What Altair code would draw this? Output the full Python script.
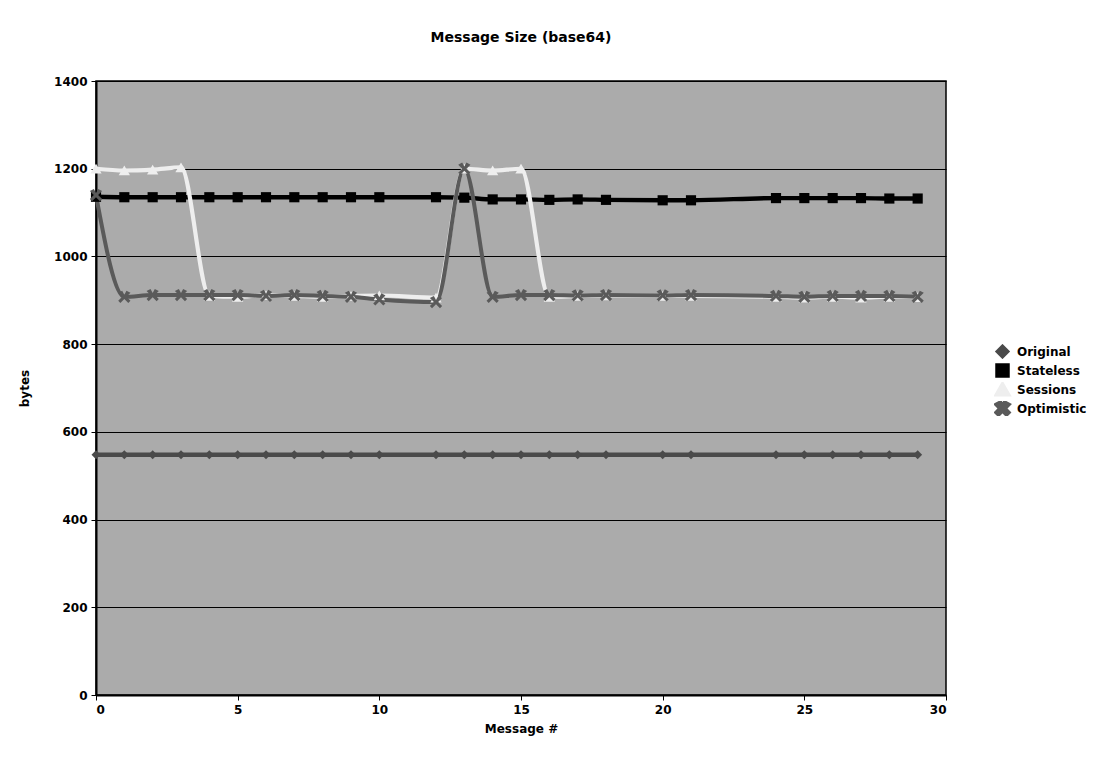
import altair as alt
import pandas as pd

messages = [0, 1, 2, 3, 4, 5, 6, 7, 8, 9, 10, 12, 13, 14, 15, 16, 17, 18, 20, 21, 24, 25, 26, 27, 28, 29]
original = [548, 548, 548, 548, 548, 548, 548, 548, 548, 548, 548, 548, 548, 548, 548, 548, 548, 548, 548, 548, 548, 548, 548, 548, 548, 548]
stateless = [1136, 1135, 1135, 1135, 1135, 1135, 1135, 1135, 1135, 1135, 1135, 1135, 1134, 1130, 1130, 1129, 1130, 1129, 1128, 1128, 1133, 1133, 1133, 1133, 1132, 1132]
sessions = [1200, 1196, 1198, 1203, 910, 908, 912, 910, 908, 910, 911, 906, 1200, 1196, 1200, 908, 910, 911, 910, 910, 908, 906, 908, 906, 908, 907]
optimistic = [1140, 908, 912, 912, 912, 912, 910, 912, 910, 908, 902, 896, 1200, 908, 912, 912, 911, 912, 911, 912, 910, 908, 910, 910, 910, 908]

series_names = ["Original", "Stateless", "Sessions", "Optimistic"]
series_colors = ["#4a4a4a", "#000000", "#eeeeee", "#5a5a5a"]
x_shape = "M-0.35,-1L0,-0.35L0.35,-1L1,-0.65L0.35,0L1,0.65L0.65,1L0,0.35L-0.65,1L-1,0.65L-0.35,0L-1,-0.65Z"
series_shapes = ["diamond", "square", "triangle-up", x_shape]

rows = []
for name, vals in zip(series_names, [original, stateless, sessions, optimistic]):
    for m, v in zip(messages, vals):
        rows.append({"Message": m, "bytes": v, "series": name})
df = pd.DataFrame(rows)

legend = alt.Legend(title=None, orient="none", legendX=898, legendY=263,
                    labelFont="DejaVu Sans", labelFontSize=12, labelFontWeight="bold",
                    labelColor="#000", symbolSize=90, symbolStrokeWidth=0,
                    rowPadding=4, symbolOpacity=1, labelOffset=6, clipHeight=15)
color = alt.Color("series:N", scale=alt.Scale(domain=series_names, range=series_colors), legend=legend)
shape = alt.Shape("series:N", scale=alt.Scale(domain=series_names, range=series_shapes), legend=legend)

x = alt.X("Message:Q", title="Message #", scale=alt.Scale(domain=[0, 30], nice=False),
          axis=alt.Axis(values=[0, 5, 10, 15, 20, 25, 30], grid=False))
y = alt.Y("bytes:Q", title="bytes", scale=alt.Scale(domain=[0, 1400], nice=False),
          axis=alt.Axis(values=[0, 200, 400, 600, 800, 1000, 1200, 1400], grid=True, format="d"))

sw = alt.Scale(domain=series_names, range=[4.5, 4, 3, 3])

lines = alt.Chart(df).mark_line(interpolate="monotone").encode(
    x=x, y=y, color=color,
    strokeWidth=alt.StrokeWidth("series:N", scale=sw, legend=None),
    detail="series:N",
)

sizes = alt.Scale(domain=series_names, range=[80, 150, 80, 60])
points = alt.Chart(df).mark_point(filled=True, opacity=1).encode(
    x=x, y=y, color=color, shape=shape,
    size=alt.Size("series:N", scale=sizes, legend=None),
)

chart = alt.layer(lines, points).properties(
    width=850, height=614,
    title=alt.Title("Message Size (base64)", font="DejaVu Sans", fontSize=14, fontWeight="bold",
                    color="#000", anchor="middle", offset=30),
    autosize=alt.AutoSizeParams(type="none"),
    padding={"left": 96, "top": 81, "right": 173, "bottom": 64},
    background="#ffffff",
).configure_view(
    fill="#ababab", stroke="#000", strokeWidth=1.5,
).configure_axis(
    labelFont="DejaVu Sans", labelFontSize=12, labelFontWeight="bold", labelColor="#000",
    titleFont="DejaVu Sans", titleFontSize=12, titleFontWeight="bold", titleColor="#000",
    domainColor="#000", domainWidth=2, tickColor="#000", tickSize=5,
    gridColor="#000", gridWidth=1.2, gridOpacity=1,
).configure_axisY(
    titlePadding=22, labelPadding=4,
).configure_axisX(
    titlePadding=8, labelPadding=4,
)

chart.save("out.html", embed_options={"renderer": "svg", "actions": False})
